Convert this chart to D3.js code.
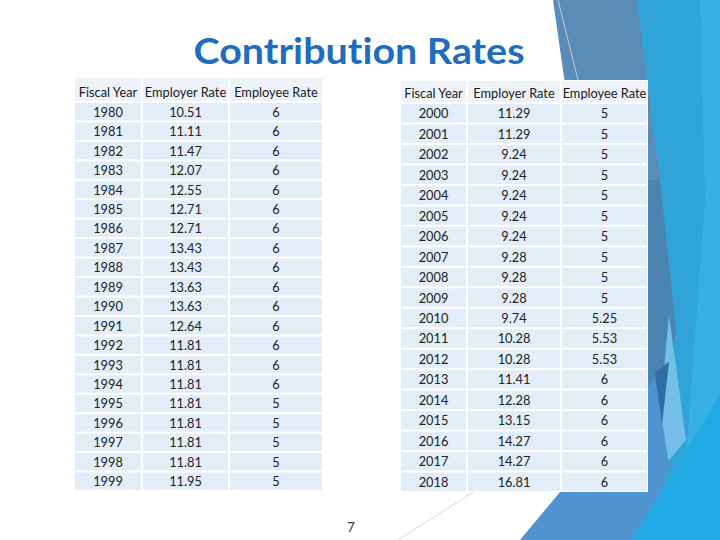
<!DOCTYPE html>
<html>
<head>
<meta charset="utf-8">
<script src="https://cdn.jsdelivr.net/npm/d3@7/dist/d3.min.js"></script>
<style>
  html, body { margin: 0; padding: 0; background: #ffffff; }
  svg { display: block; }
  text { font-variant-ligatures: none; font-feature-settings: "liga" 0, "clig" 0; }
</style>
</head>
<body>
<svg id="chart" width="720" height="540"></svg>
<script>
// ---- Data ----
const title = "Contribution Rates";
const headers = ["Fiscal Year", "Employer Rate", "Employee Rate"];

const years1 = [1980,1981,1982,1983,1984,1985,1986,1987,1988,1989,1990,1991,1992,1993,1994,1995,1996,1997,1998,1999];
const employer1 = [10.51,11.11,11.47,12.07,12.55,12.71,12.71,13.43,13.43,13.63,13.63,12.64,11.81,11.81,11.81,11.81,11.81,11.81,11.81,11.95];
const employee1 = [6,6,6,6,6,6,6,6,6,6,6,6,6,6,6,5,5,5,5,5];

const years2 = [2000,2001,2002,2003,2004,2005,2006,2007,2008,2009,2010,2011,2012,2013,2014,2015,2016,2017,2018];
const employer2 = [11.29,11.29,9.24,9.24,9.24,9.24,9.24,9.28,9.28,9.28,9.74,10.28,10.28,11.41,12.28,13.15,14.27,14.27,16.81];
const employee2 = [5,5,5,5,5,5,5,5,5,5,5.25,5.53,5.53,6,6,6,6,6,6];

const pageNumber = "7";

// ---- Drawing ----
const svg = d3.select("#chart");
const FONT = "Lato, 'Open Sans', sans-serif";

// Decorative background shapes (right side)
const deco = svg.append("g");
const shapes = [
  {fill: "#30a3d9", pts: [[628,0],[720,0],[720,540],[600,540]]},
  {fill: "#38afe2", pts: [[700,0],[720,0],[720,540],[680,540],[705,200]]},
  {fill: "#5a8cb8", pts: [[553,0],[637,0],[660,180],[676,330],[662,420],[600,330]]},
  {fill: "#4a84b3", pts: [[640,180],[660,180],[676,330],[662,420],[640,400]]},
  {fill: "#74bfe8", pts: [[669,315],[686,440],[654,478]]},
  {fill: "#4d94d0", pts: [[520,540],[655,378],[670,470],[640,540]]},
  {fill: "#2d6ea6", pts: [[655,372],[669,362],[662,425]]},
  {fill: "#20aae3", pts: [[632,540],[720,395],[720,540]]}
];
deco.selectAll("polygon").data(shapes).join("polygon")
  .attr("points", d => d.pts.map(p => p.join(",")).join(" "))
  .attr("fill", d => d.fill);
deco.append("line").attr("x1",558).attr("y1",0).attr("x2",578).attr("y2",80)
  .attr("stroke","#c8ccd0").attr("stroke-width",1);
deco.append("line").attr("x1",398).attr("y1",540).attr("x2",478).attr("y2",489)
  .attr("stroke","#d0d0d0").attr("stroke-width",0.8);

// Title
svg.append("text")
  .attr("x", 359).attr("y", 64)
  .attr("text-anchor", "middle")
  .attr("font-family", FONT)
  .attr("font-weight", "bold")
  .attr("font-size", 36)
  .attr("fill", "#1e6dbf")
  .attr("textLength", 331)
  .attr("lengthAdjust", "spacingAndGlyphs")
  .text(title);

function drawTable(cfg) {
  const g = svg.append("g");
  const rows = cfg.years.map((y, i) => [y, cfg.employer[i], cfg.employee[i]]);
  const colX = cfg.colEdges;
  const x = i => colX[i];
  const w = i => colX[i + 1] - colX[i];
  const yBand = d3.scaleBand().domain(cfg.years.map(String)).range([cfg.bodyTop, cfg.bottom]);

  g.append("rect").attr("x", colX[0]).attr("y", cfg.top)
    .attr("width", colX[3] - colX[0]).attr("height", cfg.bottom - cfg.top).attr("fill", "#ffffff");

  headers.forEach((h, i) => {
    g.append("rect").attr("x", x(i) + 1).attr("y", cfg.top + 1)
      .attr("width", w(i) - 2).attr("height", cfg.bodyTop - cfg.top - 2)
      .attr("fill", "#edf2f9");
    g.append("text").attr("x", x(i) + w(i) / 2).attr("y", cfg.headerBase)
      .attr("text-anchor", "middle").attr("font-family", FONT).attr("font-size", 12.8)
      .attr("fill", "#1a1a1a").text(h);
  });

  rows.forEach(r => {
    const yy = yBand(String(r[0]));
    r.forEach((v, i) => {
      g.append("rect").attr("x", x(i) + 1).attr("y", yy + 1)
        .attr("width", w(i) - 2).attr("height", yBand.bandwidth() - 2)
        .attr("fill", "#e3edf7");
      g.append("text").attr("x", x(i) + w(i) / 2).attr("y", yy + yBand.bandwidth() / 2 + 5)
        .attr("text-anchor", "middle").attr("font-family", FONT).attr("font-size", 12.8)
        .attr("fill", "#222").text(String(v));
    });
  });
}

drawTable({years: years1, employer: employer1, employee: employee1,
  colEdges: [74, 142, 229, 323], top: 77, bodyTop: 102, bottom: 491, headerBase: 97});
drawTable({years: years2, employer: employer2, employee: employee2,
  colEdges: [400, 467, 561, 648], top: 80, bodyTop: 103, bottom: 492, headerBase: 98});

svg.append("text").attr("x", 351).attr("y", 532).attr("text-anchor", "middle")
  .attr("font-family", FONT).attr("font-size", 13).attr("fill", "#333").text(pageNumber);
</script>
</body>
</html>
